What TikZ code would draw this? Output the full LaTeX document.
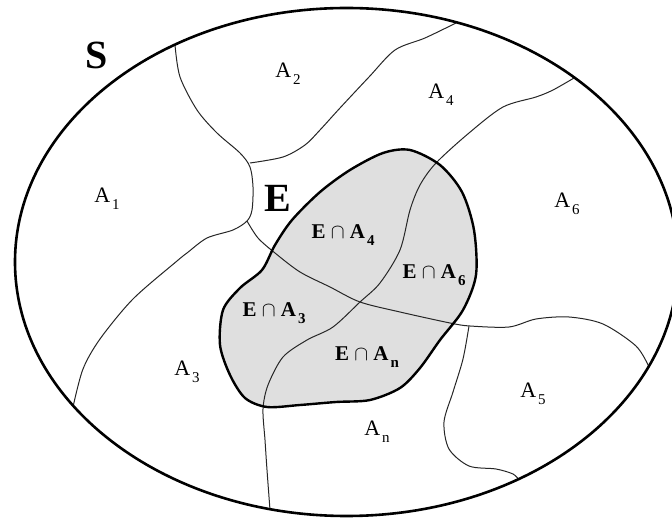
\documentclass[tikz,border=0pt]{standalone}
\usepackage{fontspec}
\setmainfont{Liberation Serif}
\newcommand{\lowsub}[1]{\kern2pt\raisebox{-0.3em}{\fontsize{15}{15}\selectfont #1}}
\newcommand{\Apart}[1]{A\lowsub{#1}}
\newcommand{\Epart}[1]{E $\cap$ A\lowsub{#1}}
\def\Eshape{(410,150) (440,165) (462,192) (474,230) (476,275) (463,310) (440,340) (420,368) (400,388) (370,400) (336,402) (300,405) (267,407) (245,398) (230,375) (220,345) (223,310) (240,288) (262,270) (275,245) (292,220) (320,192) (350,170) (383,153)}
\begin{document}
\begin{tikzpicture}[x=1pt,y=-1pt,
 bound/.style={line width=1pt,black!85},
 part/.style={font=\fontsize{22}{24}\selectfont},
 inter/.style={font=\fontsize{21}{24}\selectfont\bfseries},
 big/.style={font=\fontsize{40}{42}\selectfont\bfseries}]
 \clip (0,0) rectangle (672,518);
 % the event E
 \fill[gray!25] plot[smooth cycle] coordinates {\Eshape};
 % the partition A_1,...,A_n
 \draw[bound] plot[smooth] coordinates {(175,45) (180,77) (197,110) (217,133) (240,153) (250,167) (253,187) (252,210) (247,221) (233,230) (207,238) (187,253) (177,261) (133,299) (100,339) (83,369) (73,407)};
 \draw[bound] plot[smooth] coordinates {(250,163) (283,157) (305,145) (320,130) (340,108) (369,77) (395,50) (425,38) (456,23)};
 \draw[bound] plot[smooth] coordinates {(247,221) (258,238) (275,253) (300,272) (330,287) (360,302) (400,312) (450,323) (470,326) (509,327) (536,319) (569,317) (603,324) (636,346) (649,367)};
 \draw[bound] plot[smooth] coordinates {(574,78) (553,90) (536,97) (503,107) (469,133) (436,163) (420,185) (410,210) (400,250) (380,283) (360,302) (333,327) (307,340) (283,357) (268,385) (263,409) (265,440) (267,470) (270,510)};
 \draw[bound] plot[smooth] coordinates {(469,326) (463,359) (453,392) (444,422) (449,449) (469,466) (496,469) (513,474) (519,480)};
 \draw[line width=2.4pt] plot[smooth cycle] coordinates {\Eshape};
 % sample space S
 \draw[line width=2.6pt] (346.5,262) ellipse (331.5 and 254);
 % labels
 \node[big] (S) at (97,55) {S};
 \node[big] (E) at (278,198) {E};
 \node[part] (A1) at (107,199) {\Apart{1}};
 \node[part] (A2) at (288,74) {\Apart{2}};
 \node[part] (A3) at (187,372) {\Apart{3}};
 \node[part] (A4) at (441,95) {\Apart{4}};
 \node[part] (A5) at (533,394) {\Apart{5}};
 \node[part] (A6) at (567,204) {\Apart{6}};
 \node[part] (An) at (377,432) {\Apart{n}};
 \node[inter] (EA4) at (343,235) {\Epart{4}};
 \node[inter] (EA6) at (434,275) {\Epart{6}};
 \node[inter] (EA3) at (274,313) {\Epart{3}};
 \node[inter] (EAn) at (367,357) {\Epart{n}};
\end{tikzpicture}
\end{document}
